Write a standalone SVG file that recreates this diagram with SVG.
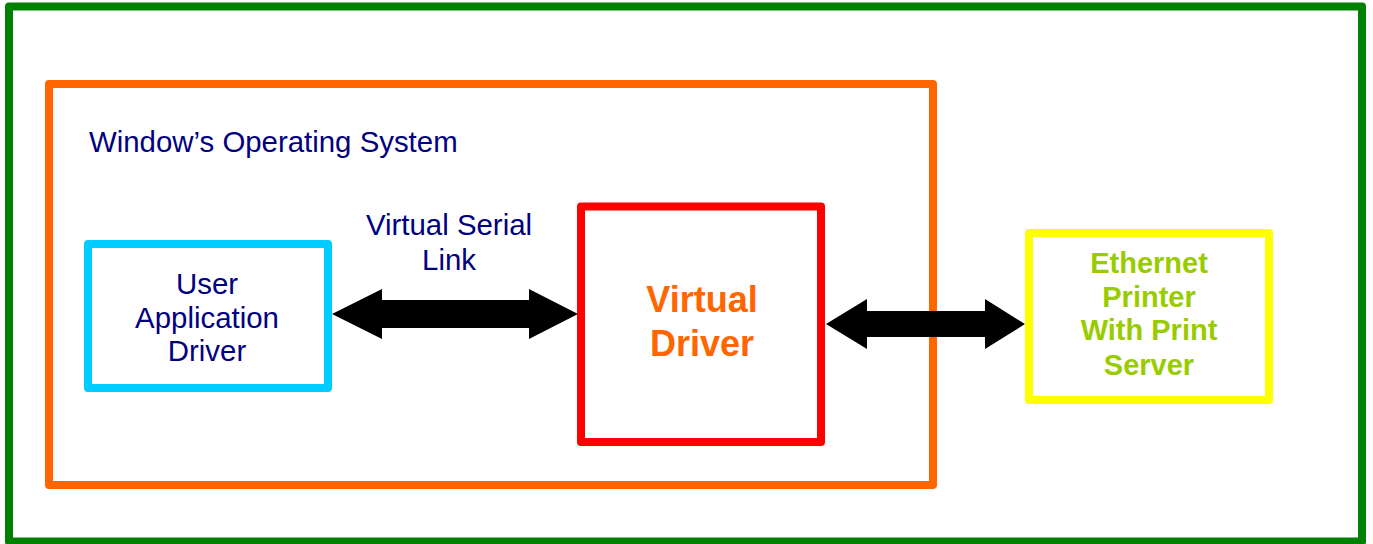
<svg xmlns="http://www.w3.org/2000/svg" width="1373" height="544" viewBox="0 0 1373 544">
  <style>
    .box { fill: #ffffff; stroke-width: 8; stroke-linejoin: round; }
    .t { font-family: "Liberation Sans", Arial, sans-serif; text-anchor: middle; }
    .navy { fill: #000080; font-size: 29.4px; }
    .green { fill: #99CC00; font-size: 29px; font-weight: bold; }
    .arrow { fill: #000000; }
  </style>
  <rect width="1373" height="544" fill="#ffffff"/>

  <!-- outer system boundary -->
  <g id="outer">
    <rect class="box" x="9" y="6.5" width="1353" height="535" stroke="#008000"/>
  </g>

  <!-- operating system boundary -->
  <g id="os">
    <rect class="box" x="49" y="84" width="884" height="401" stroke="#FF6600"/>
    <text class="t navy" x="89" y="152" style="text-anchor:start">Window’s Operating System</text>
  </g>

  <g id="user-app">
    <rect class="box" x="88" y="244" width="240" height="144" stroke="#00CCFF"/>
    <text class="t navy" x="207" y="294">User</text>
    <text class="t navy" x="207" y="328">Application</text>
    <text class="t navy" x="207" y="361">Driver</text>
  </g>

  <g id="virtual-driver">
    <rect class="box" x="581" y="206.5" width="240" height="235.5" stroke="#FF0000"/>
    <text class="t" x="702" y="312" font-size="36" font-weight="bold" fill="#FF6600">Virtual</text>
    <text class="t" x="702" y="356" font-size="36" font-weight="bold" fill="#FF6600">Driver</text>
  </g>

  <g id="printer">
    <rect class="box" x="1029" y="233" width="240" height="167" stroke="#FFFF00"/>
    <text class="t green" x="1149" y="273">Ethernet</text>
    <text class="t green" x="1149" y="307">Printer</text>
    <text class="t green" x="1149" y="340">With Print</text>
    <text class="t green" x="1149" y="375">Server</text>
  </g>

  <!-- connectors: double-headed block arrows -->
  <g id="connectors">
    <g id="serial-link">
      <polygon class="arrow" points="332,314 382,289 382,300 529,300 529,289 578,314 529,339 529,328 382,328 382,339"/>
      <text class="t navy" x="449" y="235">Virtual Serial</text>
      <text class="t navy" x="449" y="270">Link</text>
    </g>
    <polygon id="network-link" class="arrow" points="826,324 867,299 867,311 985,311 985,299 1025,324 985,349 985,337 867,337 867,349"/>
  </g>
</svg>
